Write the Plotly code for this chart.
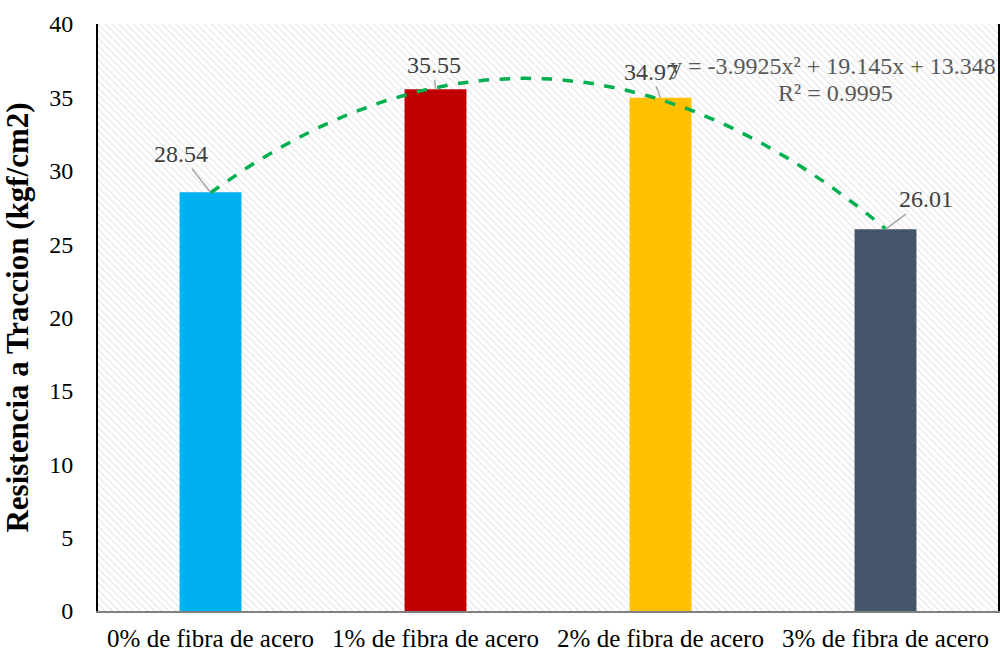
import numpy as np
import plotly.graph_objects as go

categories = ["0% de fibra de acero", "1% de fibra de acero", "2% de fibra de acero", "3% de fibra de acero"]
values = [28.54, 35.55, 34.97, 26.01]
colors = ["#00B0F0", "#C00000", "#FFC000", "#44546A"]
eq_text = "y = -3.9925x² + 19.145x + 13.348"
r2_text = "R² = 0.9995"

FONT = "Liberation Serif"

fig = go.Figure()

# hatched background of plot area (a single wide bar spanning the whole category range)
fig.add_trace(go.Bar(
    x=[1.5], y=[40], width=[4], marker=dict(color="white", line=dict(width=0),
    pattern=dict(shape="\\", fgcolor="#d0d0d0", bgcolor="white", size=5, solidity=0.25)),
    hoverinfo="skip", showlegend=False))

fig.add_trace(go.Bar(x=list(range(4)), y=values, marker=dict(color=colors, line=dict(width=0)),
                     width=0.275, showlegend=False))

# polynomial trendline fitted from the data
xs = np.arange(1, 5)
coef = np.polyfit(xs, values, 2)
xf = np.linspace(1, 4, 100)
fig.add_trace(go.Scatter(x=xf - 1, y=np.polyval(coef, xf), mode="lines",
                         line=dict(color="#00B050", width=3.5, dash="dash"),
                         showlegend=False, hoverinfo="skip"))

# data labels
offsets = [(-30, -38), (-2, -24), (-10, -26), (40, -30)]
for i, (v, (ax, ay)) in enumerate(zip(values, offsets)):
    fig.add_annotation(x=i, y=v, xref="x", yref="y", text=f"{v:.2f}", showarrow=True,
                       arrowhead=0, arrowcolor="#a6a6a6", arrowwidth=1.5, ax=ax, ay=ay,
                       font=dict(family=FONT, size=24, color="#404040"), standoff=0)

fig.add_annotation(x=1.0, y=(611 - 66) / 587, xref="paper", yref="paper", text=eq_text, showarrow=False,
                   xanchor="right", yanchor="middle", font=dict(family=FONT, size=24, color="#595959"))
fig.add_annotation(x=(835 - 98) / 900, y=(611 - 93) / 587, xref="paper", yref="paper", text=r2_text,
                   showarrow=False, xanchor="center", yanchor="middle",
                   font=dict(family=FONT, size=24, color="#595959"))

fig.update_layout(
    width=1000, height=653, margin=dict(l=98, r=2, t=24, b=42),
    plot_bgcolor="white", paper_bgcolor="white", barmode="overlay",
    font=dict(family=FONT, size=24, color="black"),
    xaxis=dict(tickmode="array", tickvals=list(range(4)), ticktext=categories,
               range=[-0.5, 3.5],
               showgrid=False, showline=True, linecolor="#808080", linewidth=1.5, mirror=False,
               tickfont=dict(family=FONT, size=25, color="black"), ticks="",
               ticklabelstandoff=4, automargin=False),
    yaxis=dict(range=[0, 40], dtick=5,
               showgrid=True, gridcolor="#d9d9d9", gridwidth=1.5,
               showline=True, linecolor="black", linewidth=2, mirror=True, zeroline=False,
               tickfont=dict(family=FONT, size=24, color="black"), ticks="", ticklabelstandoff=18,
               automargin=False, layer="above traces",
               title=dict(text="<b>Resistencia a Traccion (kgf/cm2)</b>",
                          font=dict(family=FONT, size=31, color="black"), standoff=16)),
)
# vertical category separators
for b in [0.5, 1.5, 2.5]:
    fig.add_shape(type="line", x0=b, x1=b, y0=0, y1=40, xref="x", yref="y",
                  line=dict(color="#d9d9d9", width=1.5), layer="between")

fig.write_html("out.html", config={"displayModeBar": False},
               post_script="document.body.style.margin='0';document.body.style.overflow='hidden';")
